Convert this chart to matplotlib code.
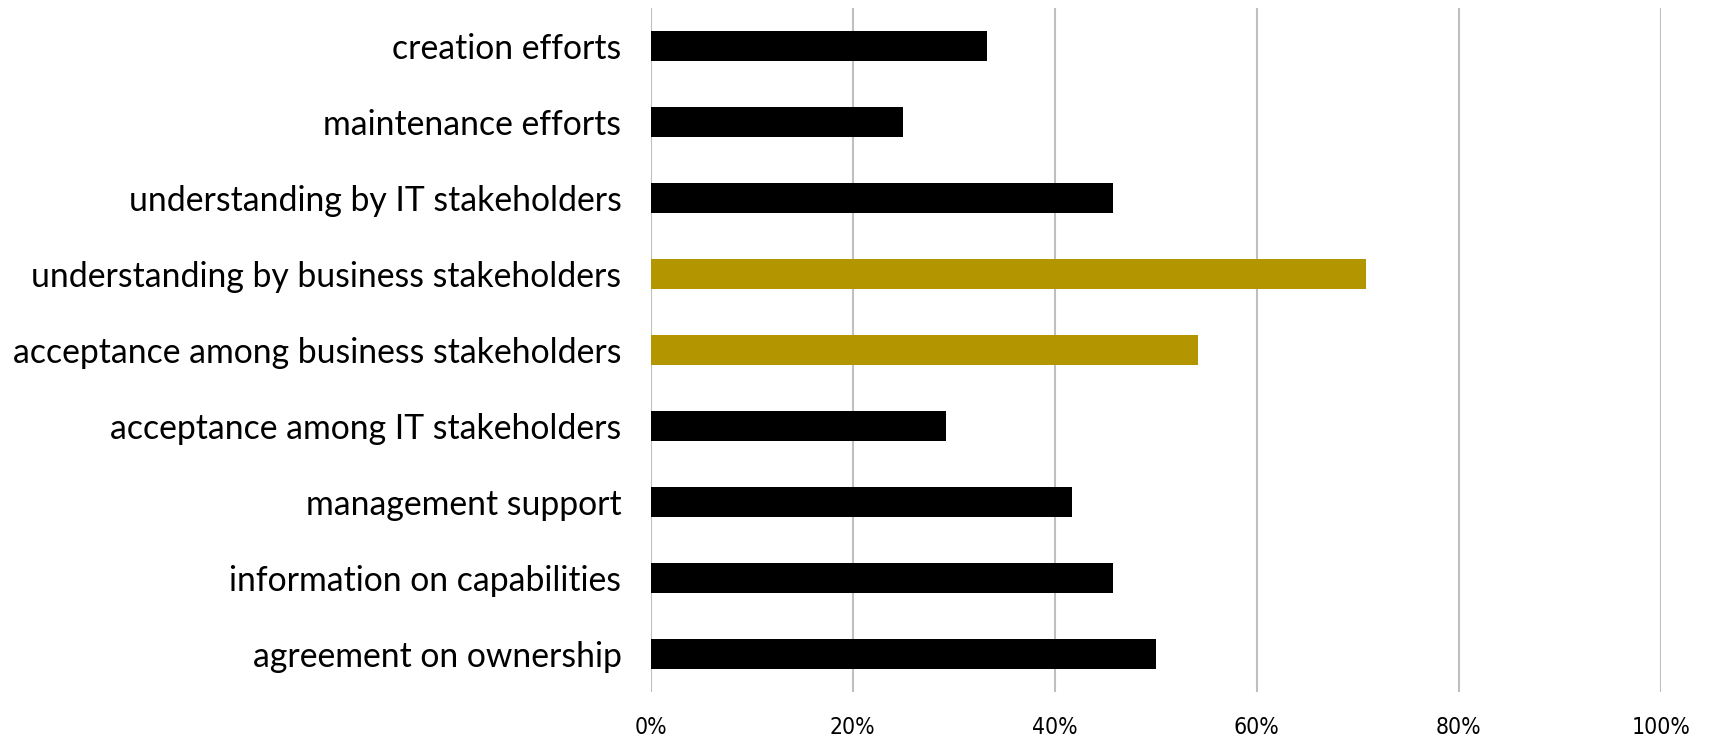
import matplotlib.pyplot as plt
from matplotlib.ticker import PercentFormatter

# Share of respondents per factor (top to bottom)
factors = ["creation efforts", "maintenance efforts", "understanding by IT stakeholders",
           "understanding by business stakeholders", "acceptance among business stakeholders",
           "acceptance among IT stakeholders", "management support",
           "information on capabilities", "agreement on ownership"]
shares = [33.3, 25.0, 45.8, 70.8, 54.2, 29.2, 41.7, 45.8, 50.0]
highlight = [False, False, False, True, True, False, False, False, False]

colors = ['#B39500' if h else '#000000' for h in highlight]

fig = plt.figure(figsize=(17.12, 7.39), dpi=100)
ax = fig.add_axes([0.380, 0.0636, 0.590, 0.9254])
ypos = list(range(len(factors)))
ax.barh(ypos, shares, height=0.4, color=colors, zorder=3)
ax.set_ylim(len(factors) - 0.5, -0.5)
ax.set_xlim(0, 100)
ax.set_xticks(range(0, 101, 20))
ax.xaxis.set_major_formatter(PercentFormatter(decimals=0))
ax.set_yticks(ypos)
ax.set_yticklabels(factors, fontfamily='Lato', fontweight='normal', fontsize=24.3)
for lab in ax.get_xticklabels():
    lab.set_fontfamily('DejaVu Sans')
    lab.set_fontstretch('condensed')
    lab.set_fontweight('light')
    lab.set_fontsize(16.5)
ax.grid(axis='x', color='#BFBFBF', linewidth=1.5, zorder=0)
for pos in ['right', 'top', 'bottom', 'left']:
    ax.spines[pos].set_visible(False)
ax.tick_params(axis='y', length=0, pad=21, labelcolor='#000000')
ax.tick_params(axis='x', length=0, pad=17, labelcolor='#000000')
fig.savefig('out.png', dpi=100)
